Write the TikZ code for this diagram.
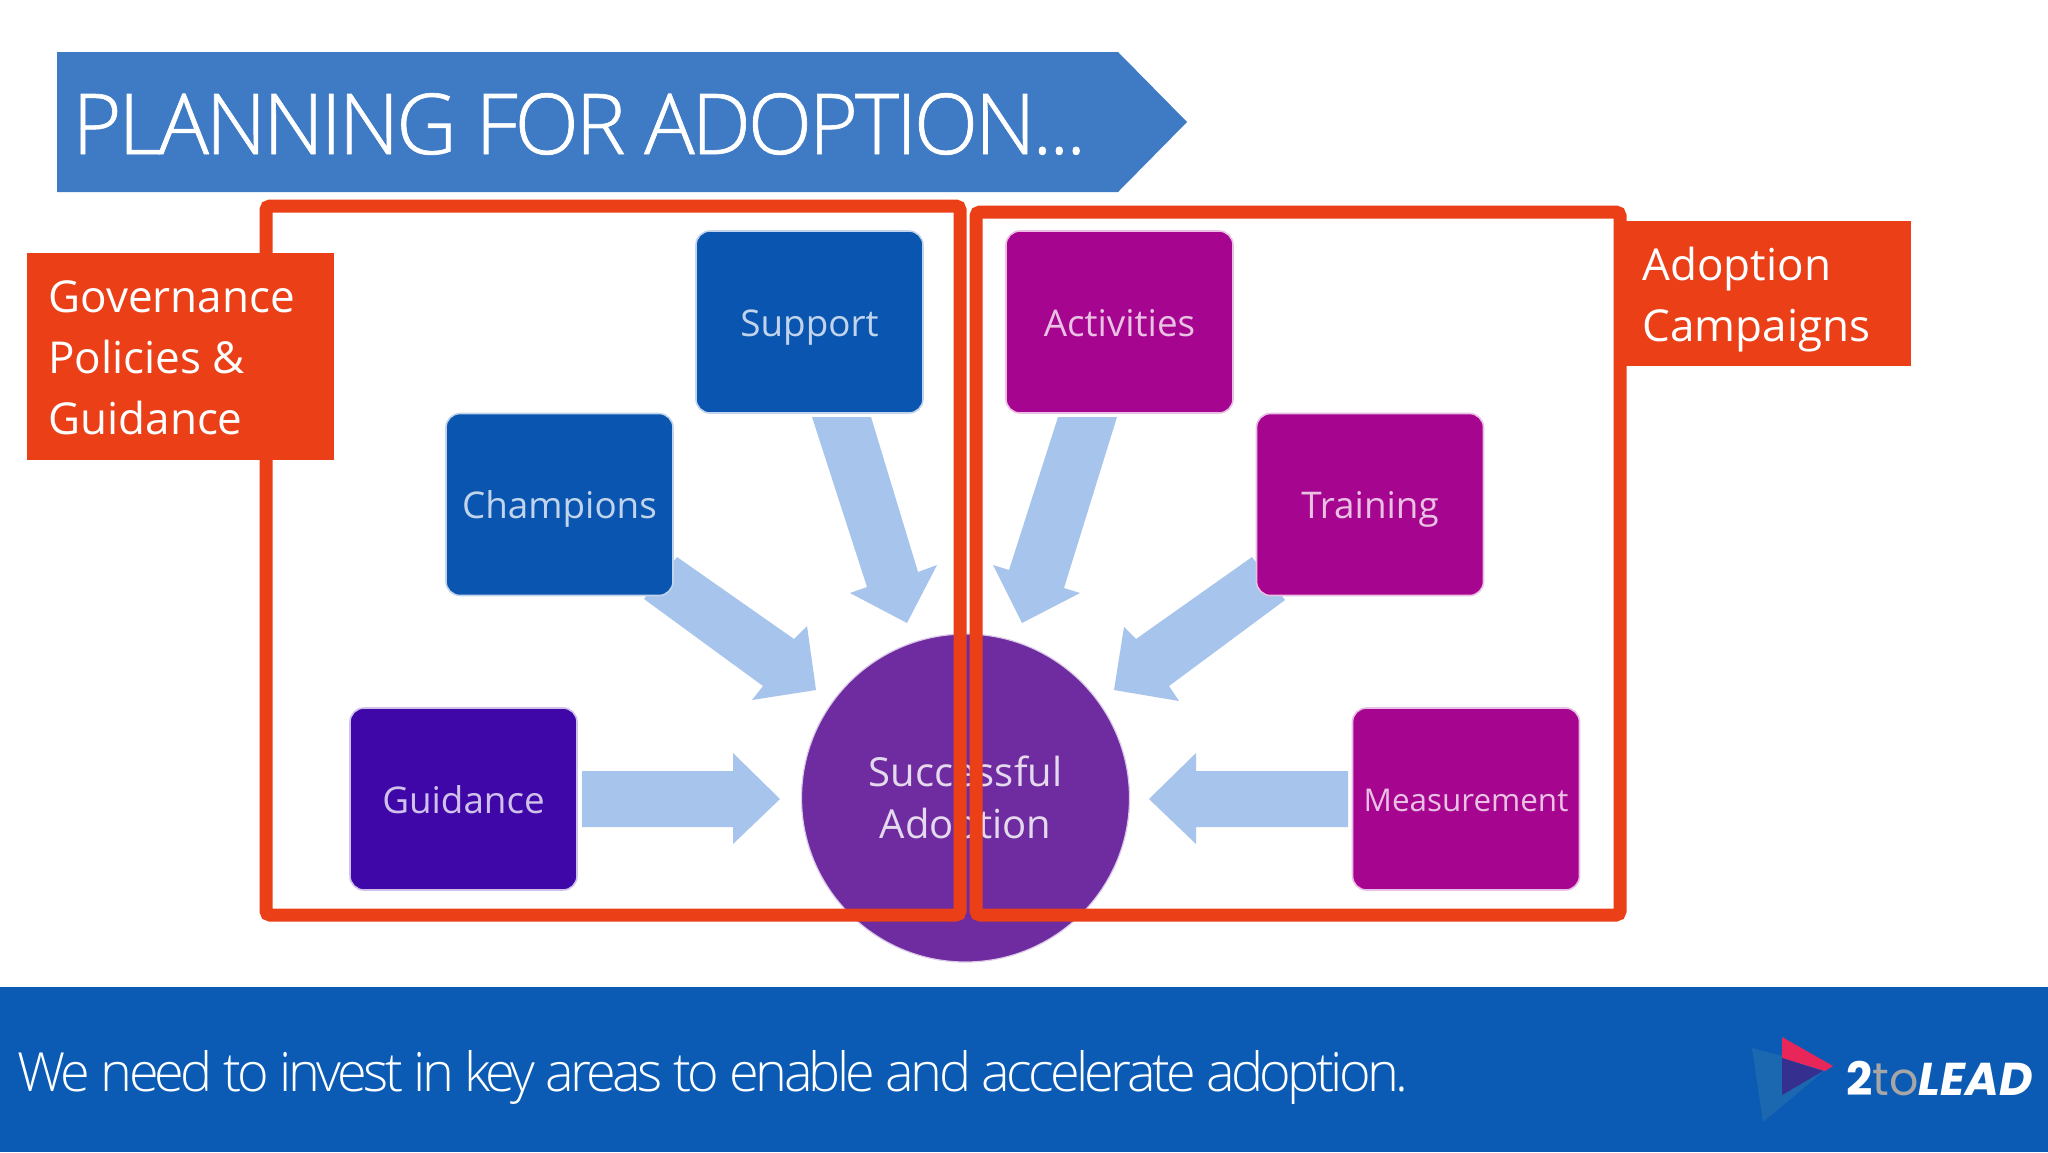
\documentclass[tikz,border=0pt]{standalone}
\usepackage{fontspec}
\setmainfont{Open Sans}
\newfontfamily\titlef[UprightFont={* Light},LetterSpace=-3.7,FakeBold=0.8]{Open Sans}
\newfontfamily\footf[UprightFont={* Light},LetterSpace=-6.8]{Open Sans}
\newfontfamily\logof{Poppins}
\definecolor{titleblue}{HTML}{3F7AC4}
\definecolor{footblue}{HTML}{0B5BB5}
\definecolor{redo}{HTML}{EA3F17}
\definecolor{arrowb}{HTML}{A6C4EC}
\definecolor{boxblue}{HTML}{0A55B0}
\definecolor{boxind}{HTML}{3F07A8}
\definecolor{boxmag}{HTML}{A60590}
\definecolor{circp}{HTML}{6E2CA0}
\definecolor{logoback}{HTML}{1C68B0}
\definecolor{logored}{HTML}{E8265A}
\definecolor{logonavy}{HTML}{35308F}
\tikzset{
  x=0.5pt,y=-0.5pt,
  flowbox/.style={rounded corners=7pt,minimum width=113.5pt,minimum height=91pt,inner sep=0pt,text height=14pt,text depth=0pt,font=\fontsize{18.4}{22}\selectfont},
  colourbox/.style={flowbox,fill=#1,draw=#1!25!white,line width=0.8pt,text=#1!25!white},
  blockarrow/.style={fill=arrowb,draw=none},
  frame/.style={draw=redo,line width=6.5pt,rounded corners=2pt},
  tag/.style={text=white,inner sep=0pt,align=left,anchor=north west,font=\fontsize{22}{30.5}\selectfont},
}
\begin{document}
\begin{tikzpicture}
\useasboundingbox (0,0) rectangle (2048,1152);
\fill[white] (0,0) rectangle (2048,1152);
% title
\fill[titleblue] (57,52) -- (1118,52) -- (1187,122) -- (1118,192) -- (57,192) -- cycle;
\node[anchor=west,inner sep=0pt,text=white,font=\titlef\fontsize{42}{50}\selectfont] (title) at (72,124) {PLANNING FOR ADOPTION...};
% circle
\node[circle,fill=circp,draw=circp!25!white,line width=0.6pt,minimum size=164pt,inner sep=0pt] (goal) at (965.5,798) {};
\node[inner sep=0pt,text=circp!18!white,align=center,font=\fontsize{20}{25.7}\selectfont] (goaltext) at (965.5,802) {Successful\\Adoption};
% block arrows
\fill[blockarrow] (812,417) -- (871,417) -- (918,572) -- (937,565) -- (907,623) -- (850,593) -- (867,587) -- cycle;
\fill[blockarrow] (677,557) -- (794,639) -- (807,626) -- (816,690) -- (752,700) -- (763,686) -- (644,599) -- cycle;
\fill[blockarrow] (582,771) -- (733,771) -- (733,753) -- (780,799) -- (733,844) -- (733,827) -- (582,827) -- cycle;
\fill[blockarrow] (1058,417) -- (1117,417) -- (1064,588) -- (1080,593) -- (1022,623) -- (993,565) -- (1009,570) -- cycle;
\fill[blockarrow] (1252,557) -- (1285,600) -- (1169,686) -- (1179,701) -- (1114,690) -- (1124,627) -- (1136,639) -- cycle;
\fill[blockarrow] (1348,771) -- (1196,771) -- (1196,753) -- (1149,799) -- (1196,844) -- (1196,827) -- (1348,827) -- cycle;
% boxes
\node[colourbox=boxblue] (support) at (809.5,322) {Support};
\node[colourbox=boxblue] (champions) at (559.5,504.5) {Champions};
\node[colourbox=boxind] (guidance) at (463.5,799) {Guidance};
\node[colourbox=boxmag] (activities) at (1119.5,322) {Activities};
\node[colourbox=boxmag] (training) at (1370,504.5) {Training};
\node[colourbox=boxmag,font=\fontsize{15.7}{20}\selectfont,text height=12pt] (measurement) at (1466,799) {Measurement};
% frames
\draw[frame] (266,206) rectangle (960,915);
\draw[frame] (976,212) rectangle (1620,915);
% labels
\fill[redo] (27,253) rectangle (334,460);
\node[tag] (gov) at (48,280) {Governance\\Policies \&\\Guidance};
\fill[redo] (1620,221) rectangle (1911,366);
\node[tag] (camp) at (1642,246.5) {Adoption\\Campaigns};
% footer
\fill[footblue] (0,987) rectangle (2048,1152);
\node[anchor=west,inner sep=0pt,text=white,font=\footf\fontsize{27}{33}\selectfont] (foot) at (17,1077) {We need to invest in key areas to enable and accelerate adoption.};
% logo
\fill[logoback] (1752,1048) -- (1790,1058) -- (1825,1070) -- (1763,1122) -- cycle;
\fill[logored] (1782,1037) -- (1833,1066) -- (1825,1071) -- (1782,1058) -- cycle;
\fill[logonavy] (1782,1058) -- (1823,1071) -- (1782,1095) -- cycle;
\node[anchor=base west,inner sep=0pt,font=\logof\fontsize{23}{26}\selectfont] (logo) at (1846,1095) {\textcolor{white}{\textbf{2}}\textcolor{gray!70!white}{to}\textcolor{white}{\textbf{\textit{LEAD}}}};
\end{tikzpicture}
\end{document}
